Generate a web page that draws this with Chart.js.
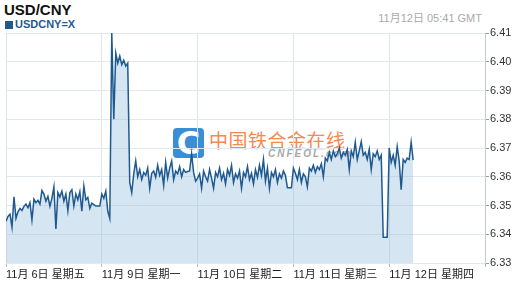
<!DOCTYPE html>
<html>
<head>
<meta charset="utf-8">
<script src="https://cdn.jsdelivr.net/npm/chart.js@4.4.1/dist/chart.umd.min.js"></script>
<style>
  html, body { margin: 0; padding: 0; background: #fff; }
  #wrap { position: relative; width: 518px; height: 289px; overflow: hidden;
          font-family: Arial, "Liberation Sans", "Noto Sans CJK SC", sans-serif; }
  #chart { position: absolute; left: 0; top: 0; z-index: 2; }
  .title { position: absolute; left: 4px; top: 1px; font-size: 15px; font-weight: bold; color: #111; }
  .legend { position: absolute; left: 5px; top: 18px; font-size: 11px; font-weight: bold; color: #1f5a8f; }
  .legend i { display: inline-block; width: 8px; height: 8px; background: #1f5a8f; margin-right: 2px; vertical-align: -1px; }
  .stamp { position: absolute; right: 36px; top: 9px; font-size: 11px; color: #aaa; }
  .logo { position: absolute; left: 173px; top: 128px; width: 31px; height: 30px; background: #3a8ed3;
          border-radius: 4px; color: #fff; font: bold 32px "DejaVu Sans", sans-serif; line-height: 30px; text-align: center; }
  .cn { position: absolute; left: 209px; top: 126px; font-size: 19px; color: #f28a52; letter-spacing: 0.5px;
        font-family: "Noto Sans CJK SC", sans-serif; }
  .en { position: absolute; left: 268px; top: 148px; font-size: 10px; font-style: italic; font-weight: bold;
        color: #a8a8a8; letter-spacing: 2px; }
</style>
</head>
<body>
<div id="wrap">
  <div class="title">USD/CNY</div>
  <div class="legend"><i></i>USDCNY=X</div>
  <div class="stamp">11月12日 05:41 GMT</div>
  <div class="logo">C</div>
  <div class="cn">中国铁合金在线</div>
  <div class="en">CNFEOL.com</div>
  <canvas id="chart" width="518" height="289"></canvas>
</div>
<script>
// half-hour quotes, one list per trading day
const nov06 = [
  6.3445, 6.3462, 6.3470, 6.3425, 6.3530, 6.3455, 6.3478, 6.3490, 6.3483, 6.3497,
  6.3505, 6.3492, 6.3510, 6.3450, 6.3522, 6.3510, 6.3518, 6.3505, 6.3552, 6.3540,
  6.3515, 6.3532, 6.3498, 6.3525, 6.3565, 6.3418, 6.3545, 6.3530, 6.3550, 6.3515,
  6.3540, 6.3482, 6.3545, 6.3555, 6.3498, 6.3540, 6.3520, 6.3548, 6.3480, 6.3568,
  6.3520, 6.3528, 6.3490, 6.3508, 6.3503, 6.3498, 6.3498, 6.3498
];
const nov09 = [
  6.3540, 6.3525, 6.3550, 6.3480, 6.3455, 6.4100, 6.3800, 6.4030, 6.3995, 6.4020,
  6.3990, 6.4005, 6.3985, 6.3995, 6.3580, 6.3545, 6.3610, 6.3655, 6.3600, 6.3625,
  6.3590, 6.3615, 6.3605, 6.3630, 6.3560, 6.3612, 6.3620, 6.3598, 6.3640, 6.3605,
  6.3625, 6.3570, 6.3650, 6.3595, 6.3630, 6.3655, 6.3590, 6.3620, 6.3610, 6.3635,
  6.3600, 6.3625, 6.3615, 6.3618, 6.3620, 6.3680, 6.3615, 6.3585
];
const nov10 = [
  6.3595, 6.3610, 6.3560, 6.3620, 6.3600, 6.3585, 6.3625, 6.3595, 6.3560, 6.3615,
  6.3600, 6.3630, 6.3590, 6.3612, 6.3575, 6.3625, 6.3605, 6.3640, 6.3580, 6.3610,
  6.3595, 6.3620, 6.3560, 6.3615, 6.3600, 6.3635, 6.3590, 6.3612, 6.3575, 6.3625,
  6.3598, 6.3640, 6.3605, 6.3660, 6.3585, 6.3630, 6.3560, 6.3615, 6.3600, 6.3625,
  6.3580, 6.3610, 6.3595, 6.3620, 6.3605, 6.3562, 6.3562, 6.3562
];
const nov11 = [
  6.3630, 6.3612, 6.3590, 6.3625, 6.3580, 6.3610, 6.3600, 6.3565, 6.3630, 6.3620,
  6.3640, 6.3615, 6.3635, 6.3625, 6.3645, 6.3600, 6.3665, 6.3655, 6.3685, 6.3660,
  6.3690, 6.3670, 6.3680, 6.3700, 6.3665, 6.3685, 6.3675, 6.3695, 6.3625, 6.3690,
  6.3670, 6.3720, 6.3660, 6.3690, 6.3722, 6.3675, 6.3685, 6.3660, 6.3695, 6.3625,
  6.3680, 6.3670, 6.3690, 6.3660, 6.3675, 6.3390, 6.3390, 6.3390
];
const nov12 = [
  6.3700, 6.3650, 6.3675, 6.3640, 6.3705, 6.3655, 6.3555, 6.3660, 6.3650, 6.3665,
  6.3660, 6.3720, 6.3658
];
const dayLabels = ['11月 6日 星期五', '11月 9日 星期一', '11月 10日 星期二', '11月 11日 星期三', '11月 12日 星期四'];
const yTicks = [6.33, 6.34, 6.35, 6.36, 6.37, 6.38, 6.39, 6.40, 6.41];

const STEP = 0.5; // hours between quotes
const points = [];
[nov06, nov09, nov10, nov11, nov12].forEach((vals, d) => {
  vals.forEach((v, i) => points.push({ x: d * 24 + i * STEP, y: v }));
});

const font = { family: 'Arial, "Liberation Sans", "Noto Sans CJK SC", sans-serif', size: 11 };

new Chart(document.getElementById('chart'), {
  type: 'line',
  data: {
    datasets: [{
      label: 'USDCNY=X',
      data: points,
      borderColor: '#1f5a8f',
      borderWidth: 1.5,
      backgroundColor: 'rgba(150, 190, 220, 0.4)',
      fill: 'start',
      pointRadius: 0,
      tension: 0
    }]
  },
  options: {
    responsive: false,
    animation: false,
    layout: { padding: { left: 6, top: 33, right: 0, bottom: 0 } },
    plugins: { legend: { display: false }, tooltip: { enabled: false } },
    scales: {
      x: {
        type: 'linear',
        min: 0,
        max: 120,
        afterFit: (s) => { s.height = 26; },
        afterBuildTicks: (s) => { s.ticks = [0, 24, 48, 72, 96, 120].map(v => ({ value: v })); },
        grid: { color: '#dce6ef', tickColor: '#a9bccb', tickLength: 4 },
        border: { display: false },
        ticks: {
          autoSkip: false,
          maxRotation: 0,
          align: 'start',
          padding: 1,
          color: '#222',
          font: font,
          callback: (v) => dayLabels[v / 24] || ''
        }
      },
      y: {
        position: 'right',
        min: 6.33,
        max: 6.41,
        afterFit: (s) => { s.width = 33; },
        afterBuildTicks: (s) => { s.ticks = yTicks.map(v => ({ value: v })); },
        grid: { color: '#e2e8ef', tickColor: '#999', tickLength: 4 },
        border: { display: true, color: '#c5ccd4' },
        ticks: {
          padding: 1,
          color: '#333',
          font: font,
          callback: (v) => v.toFixed(2)
        }
      }
    }
  }
});
</script>
</body>
</html>
